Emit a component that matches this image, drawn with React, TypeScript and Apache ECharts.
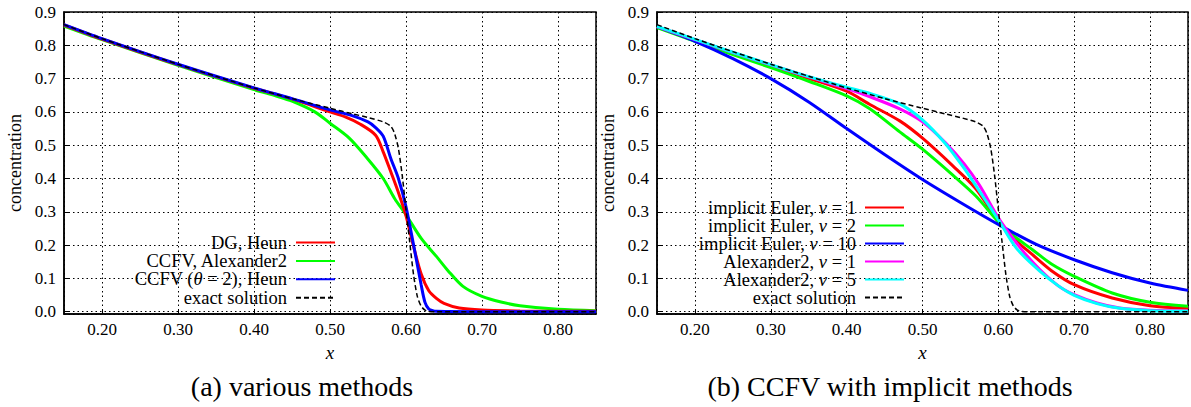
import React, { useEffect, useRef } from 'react';
import * as echarts from 'echarts';

// ---------- data ----------
const X_MIN = 0.15;
const X_MAX = 0.85;
const Y_MIN = -0.007;
const Y_MAX = 0.9;

// exact solution (both panels)
const exactX = [0.15, 0.2, 0.25, 0.3, 0.35, 0.4, 0.45, 0.5, 0.53, 0.55, 0.57, 0.58, 0.585, 0.59, 0.595, 0.6, 0.605, 0.61, 0.615, 0.62, 0.625, 0.63, 0.64, 0.7, 0.85];
const exactY = [0.862, 0.82, 0.781, 0.743, 0.707, 0.672, 0.64, 0.611, 0.594, 0.583, 0.57, 0.557, 0.535, 0.49, 0.41, 0.306, 0.207, 0.11, 0.045, 0.016, 0.005, 0.001, 0, 0, 0];

// (a) various methods
const dgHeunX = [0.15, 0.2, 0.3, 0.4, 0.45, 0.5, 0.52, 0.54, 0.56, 0.57, 0.58, 0.59, 0.6, 0.61, 0.62, 0.63, 0.64, 0.65, 0.67, 0.7, 0.75, 0.8, 0.85];
const dgHeunY = [0.861, 0.819, 0.742, 0.671, 0.639, 0.6, 0.585, 0.563, 0.53, 0.48, 0.42, 0.358, 0.288, 0.195, 0.113, 0.063, 0.04, 0.025, 0.011, 0.005, 0.002, 0.001, 0.001];

const ccfvAlexX = [0.15, 0.2, 0.3, 0.4, 0.43, 0.45, 0.48, 0.5, 0.525, 0.55, 0.57, 0.585, 0.6, 0.62, 0.64, 0.655, 0.675, 0.7, 0.725, 0.75, 0.8, 0.85];
const ccfvAlexY = [0.858, 0.817, 0.74, 0.667, 0.647, 0.632, 0.6, 0.566, 0.522, 0.458, 0.4, 0.34, 0.291, 0.22, 0.166, 0.124, 0.076, 0.046, 0.029, 0.018, 0.007, 0.003];

const ccfvThetaX = [0.15, 0.2, 0.3, 0.4, 0.45, 0.5, 0.53, 0.55, 0.56, 0.57, 0.58, 0.59, 0.6, 0.61, 0.62, 0.625, 0.63, 0.635, 0.64, 0.7, 0.85];
const ccfvThetaY = [0.862, 0.82, 0.743, 0.672, 0.64, 0.606, 0.588, 0.57, 0.553, 0.527, 0.46, 0.4, 0.315, 0.2, 0.08, 0.028, 0.008, 0.003, 0.001, 0, 0];

// (b) CCFV with implicit methods
const ie1X = [0.15, 0.2, 0.25, 0.3, 0.35, 0.4, 0.43, 0.47, 0.5, 0.54, 0.57, 0.6, 0.62, 0.645, 0.67, 0.7, 0.75, 0.8, 0.85];
const ie1Y = [0.855, 0.815, 0.776, 0.739, 0.701, 0.662, 0.623, 0.573, 0.521, 0.438, 0.37, 0.272, 0.22, 0.171, 0.123, 0.081, 0.041, 0.018, 0.01];

const ie2X = [0.15, 0.2, 0.25, 0.3, 0.35, 0.4, 0.43, 0.47, 0.5, 0.54, 0.57, 0.6, 0.62, 0.645, 0.67, 0.7, 0.75, 0.8, 0.85];
const ie2Y = [0.853, 0.812, 0.772, 0.733, 0.692, 0.648, 0.61, 0.54, 0.488, 0.41, 0.348, 0.27, 0.228, 0.186, 0.143, 0.106, 0.056, 0.028, 0.016];

const ie10X = [0.15, 0.2, 0.25, 0.3, 0.35, 0.4, 0.45, 0.5, 0.55, 0.6, 0.65, 0.7, 0.75, 0.8, 0.85];
const ie10Y = [0.856, 0.812, 0.76, 0.7, 0.63, 0.55, 0.472, 0.397, 0.328, 0.262, 0.202, 0.156, 0.117, 0.086, 0.064];

const alex1X = [0.15, 0.2, 0.25, 0.3, 0.35, 0.4, 0.43, 0.47, 0.5, 0.53, 0.555, 0.575, 0.6, 0.62, 0.635, 0.655, 0.68, 0.7, 0.73, 0.76, 0.8, 0.85];
const alex1Y = [0.856, 0.817, 0.778, 0.741, 0.705, 0.67, 0.646, 0.609, 0.57, 0.508, 0.444, 0.38, 0.282, 0.218, 0.175, 0.126, 0.076, 0.051, 0.026, 0.011, 0.004, 0.002];

const alex5X = [0.15, 0.2, 0.25, 0.3, 0.35, 0.4, 0.43, 0.47, 0.5, 0.53, 0.555, 0.575, 0.6, 0.624, 0.655, 0.68, 0.7, 0.73, 0.76, 0.8, 0.85];
const alex5Y = [0.857, 0.818, 0.779, 0.742, 0.706, 0.674, 0.656, 0.624, 0.576, 0.505, 0.43, 0.362, 0.276, 0.19, 0.121, 0.076, 0.049, 0.024, 0.01, 0.003, 0.001];

const captionA = '(a) various methods';
const captionB = '(b) CCFV with implicit methods';

// ---------- helpers ----------
const FONT = 'Liberation Serif';
const pairs = (xs: number[], ys: number[]) => xs.map((x, i) => [x, ys[i]]);

const richLabels: Record<string, string> = {
  'DG, Heun': '{n|DG, Heun}{s|}',
  'CCFV, Alexander2': '{n|CCFV, Alexander2}{s|}',
  'CCFV (θ = 2), Heun': '{n|CCFV (}{i|θ}{n| = 2), Heun}{s|}',
  'exact solution': '{n|exact solution}{s|}',
  'implicit Euler, ν = 1': '{n|implicit Euler, }{i|ν}{n| = 1}{s|}',
  'implicit Euler, ν = 2': '{n|implicit Euler, }{i|ν}{n| = 2}{s|}',
  'implicit Euler, ν = 10': '{n|implicit Euler, }{i|ν}{n| = 10}{s|}',
  'Alexander2, ν = 1': '{n|Alexander2, }{i|ν}{n| = 1}{s|}',
  'Alexander2, ν = 5': '{n|Alexander2, }{i|ν}{n| = 5}{s|}',
};

function xAxis(gridIndex: number) {
  return {
    type: 'value',
    gridIndex,
    min: X_MIN,
    max: X_MAX,
    splitNumber: 7,
    name: 'x',
    nameLocation: 'middle',
    nameGap: 25,
    nameTextStyle: { fontFamily: FONT, fontStyle: 'italic', fontSize: 19, color: '#000' },
    axisLine: { show: true, onZero: false, lineStyle: { color: '#000', width: 1.5 } },
    axisTick: { show: true, inside: true, length: 5, lineStyle: { color: '#000', width: 1 } },
    axisLabel: {
      formatter: (v: number) => v.toFixed(2),
      color: '#000',
      fontFamily: FONT,
      fontSize: 17,
      margin: 7,
      showMinLabel: false,
      showMaxLabel: false,
    },
    splitLine: { show: true, lineStyle: { color: '#000', width: 1, type: [1.5, 3] } },
  };
}

function yAxis(gridIndex: number) {
  return {
    type: 'value',
    gridIndex,
    min: Y_MIN,
    max: Y_MAX,
    splitNumber: 9,
    name: 'concentration',
    nameLocation: 'middle',
    nameGap: 40,
    nameTextStyle: { fontFamily: FONT, fontSize: 18, color: '#000' },
    axisLine: { show: true, onZero: false, lineStyle: { color: '#000', width: 1.5 } },
    axisTick: { show: true, inside: true, length: 5, lineStyle: { color: '#000', width: 1 } },
    axisLabel: {
      formatter: (v: number) => v.toFixed(1),
      color: '#000',
      fontFamily: FONT,
      fontSize: 17,
      margin: 8,
      showMinLabel: false,
      showMaxLabel: true,
    },
    splitLine: { show: true, lineStyle: { color: '#000', width: 1, type: [1.5, 3] } },
  };
}

function lineSeries(name: string, idx: number, xs: number[], ys: number[], color: string, z: number) {
  return {
    type: 'line',
    name,
    xAxisIndex: idx,
    yAxisIndex: idx,
    data: pairs(xs, ys),
    symbol: 'none',
    showSymbol: false,
    smooth: 0.3,
    lineStyle: { color, width: 3 },
    itemStyle: { color },
    z,
  };
}

function exactSeries(idx: number) {
  return {
    type: 'line',
    name: 'exact solution',
    xAxisIndex: idx,
    yAxisIndex: idx,
    data: pairs(exactX, exactY),
    symbol: 'none',
    showSymbol: false,
    smooth: 0.25,
    lineStyle: { color: '#000', width: 1.5, type: [5, 3] },
    itemStyle: { color: '#000' },
    z: 10,
  };
}

function legendItem(name: string, right: number, top: number) {
  return {
    data: [name],
    orient: 'vertical',
    right,
    top,
    align: 'right',
    padding: 0,
    itemGap: 0,
    itemWidth: 39,
    itemHeight: 10,
    selectedMode: false,
    itemStyle: { opacity: 0, borderWidth: 0 },
    formatter: (n: string) => richLabels[n] || n,
    textStyle: {
      color: '#000',
      fontFamily: FONT,
      fontSize: 18.5,
      rich: {
        n: { color: '#000', fontFamily: FONT, fontSize: 18.5 },
        i: { color: '#000', fontFamily: FONT, fontSize: 18.5, fontStyle: 'italic' },
        s: { width: 4 },
      },
    },
  };
}

const leftLegendNames = ['DG, Heun', 'CCFV, Alexander2', 'CCFV (θ = 2), Heun', 'exact solution'];
const rightLegendNames = [
  'implicit Euler, ν = 1',
  'implicit Euler, ν = 2',
  'implicit Euler, ν = 10',
  'Alexander2, ν = 1',
  'Alexander2, ν = 5',
  'exact solution',
];

export default function App() {
  const ref = useRef<HTMLDivElement>(null);

  useEffect(() => {
    document.body.style.margin = '0';
    if (!ref.current) return;
    const chart = echarts.init(ref.current, undefined, { renderer: 'svg' });

    const legends = [
      ...leftLegendNames.map((n, i) => legendItem(n, 855, 233 + i * 18.4)),
      ...rightLegendNames.map((n, i) => legendItem(n, 286, 198 + i * 18)),
    ];

    chart.setOption({
      animation: false,
      backgroundColor: '#fff',
      grid: [
        { left: 64, top: 12, width: 532, height: 302, show: true, borderColor: '#000', borderWidth: 1.5, backgroundColor: 'transparent' },
        { left: 657, top: 12, width: 531, height: 302, show: true, borderColor: '#000', borderWidth: 1.5, backgroundColor: 'transparent' },
      ],
      xAxis: [xAxis(0), xAxis(1)],
      yAxis: [yAxis(0), yAxis(1)],
      legend: legends,
      series: [
        lineSeries('CCFV, Alexander2', 0, ccfvAlexX, ccfvAlexY, '#00ff00', 3),
        lineSeries('DG, Heun', 0, dgHeunX, dgHeunY, '#ff0000', 4),
        lineSeries('CCFV (θ = 2), Heun', 0, ccfvThetaX, ccfvThetaY, '#0000ff', 5),
        exactSeries(0),
        lineSeries('implicit Euler, ν = 1', 1, ie1X, ie1Y, '#ff0000', 3),
        lineSeries('implicit Euler, ν = 2', 1, ie2X, ie2Y, '#00ff00', 4),
        lineSeries('implicit Euler, ν = 10', 1, ie10X, ie10Y, '#0000ff', 5),
        lineSeries('Alexander2, ν = 1', 1, alex1X, alex1Y, '#ff00ff', 6),
        lineSeries('Alexander2, ν = 5', 1, alex5X, alex5Y, '#00ffff', 7),
        exactSeries(1),
      ],
      graphic: [
        {
          type: 'text',
          x: 302,
          y: 386,
          style: { text: captionA, fontFamily: FONT, fontSize: 28, fill: '#000', textAlign: 'center', textVerticalAlign: 'middle' },
        },
        {
          type: 'text',
          x: 890,
          y: 386,
          style: { text: captionB, fontFamily: FONT, fontSize: 28, fill: '#000', textAlign: 'center', textVerticalAlign: 'middle' },
        },
      ],
    });

    return () => chart.dispose();
  }, []);

  return <div ref={ref} style={{ width: 1191, height: 407 }} />;
}
